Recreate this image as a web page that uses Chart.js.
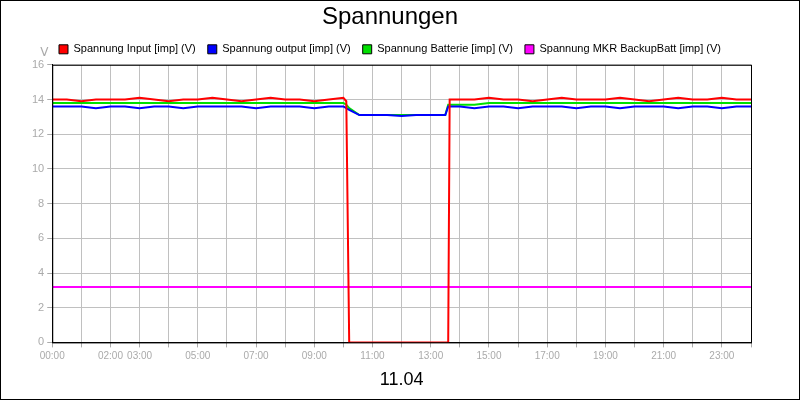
<!DOCTYPE html>
<html><head><meta charset="utf-8">
<script src="https://cdn.jsdelivr.net/npm/chart.js@4/dist/chart.umd.min.js"></script>
<style>
html,body{margin:0;padding:0;background:#fff}
#wrap{width:798px;height:398px;border:1px solid #000;position:relative}
</style></head>
<body><div id="wrap"><canvas id="myChart" width="798" height="398"></canvas></div>
<script>
const times = [0,0.5,1,1.5,2,2.5,3,3.5,4,4.5,5,5.5,6,6.5,7,7.5,8,8.5,9,9.5,10,
  10.1,10.2,10.55,11,11.5,12,12.5,13,13.5,13.6,13.65,
  14,14.5,15,15.5,16,16.5,17,17.5,18,18.5,19,19.5,20,20.5,21,21.5,22,22.5,23,23.5,24];
const inputV = [14.0,14.0,13.9,14.0,14.0,14.0,14.1,14.0,13.9,14.0,14.0,14.1,14.0,13.9,14.0,14.1,14.0,14.0,13.9,14.0,14.1,
  13.9,0,0,0,0,0,0,0,0,0,14.0,
  14.0,14.0,14.1,14.0,14.0,13.9,14.0,14.1,14.0,14.0,14.0,14.1,14.0,13.9,14.0,14.1,14.0,14.0,14.1,14.0,14.0];
const outputV = [13.6,13.6,13.6,13.5,13.6,13.6,13.5,13.6,13.6,13.5,13.6,13.6,13.6,13.6,13.5,13.6,13.6,13.6,13.5,13.6,13.6,
  13.5,13.4,13.1,13.1,13.1,13.05,13.1,13.1,13.1,13.6,13.6,
  13.6,13.5,13.6,13.6,13.5,13.6,13.6,13.6,13.5,13.6,13.6,13.5,13.6,13.6,13.6,13.5,13.6,13.6,13.5,13.6,13.6];
const batterieV = [13.8,13.8,13.8,13.8,13.8,13.8,13.8,13.8,13.8,13.8,13.8,13.8,13.8,13.8,13.8,13.8,13.8,13.8,13.8,13.8,13.8,
  13.7,13.5,13.1,13.1,13.1,13.1,13.1,13.1,13.1,13.7,13.7,
  13.7,13.7,13.8,13.8,13.8,13.8,13.8,13.8,13.8,13.8,13.8,13.8,13.8,13.8,13.8,13.8,13.8,13.8,13.8,13.8,13.8];
const backupV = times.map(() => 3.2);
const hourLabels = {0:'00:00',2:'02:00',3:'03:00',5:'05:00',7:'07:00',9:'09:00',11:'11:00',13:'13:00',
  15:'15:00',17:'17:00',19:'19:00',21:'21:00',23:'23:00'};

const pts = arr => arr.map((v, i) => ({x: times[i], y: v}));
const mk = (label, arr, color) => ({label, data: pts(arr), borderColor: color, backgroundColor: color,
  borderWidth: 2, pointRadius: 0, tension: 0, fill: false});

const frame = {
  id: 'frame',
  afterDraw(chart) {
    const {ctx, chartArea: a} = chart;
    ctx.save();
    ctx.strokeStyle = '#000'; ctx.lineWidth = 1;
    ctx.strokeRect(a.left + 0.5, a.top + 0.5, a.right - a.left, a.bottom - a.top);
    ctx.fillStyle = '#aaa'; ctx.font = '12px "DejaVu Sans"'; ctx.textAlign = 'center';
    ctx.fillText('V', a.left - 8, a.top - 12);
    ctx.restore();
  }
};

const ctx = document.getElementById('myChart').getContext('2d');
new Chart(ctx, {
  type: 'line',
  data: {datasets: [
    mk('Spannung Input [imp] (V)', inputV, '#ff0000'),
    mk('Spannung output [imp] (V)', outputV, '#0000ff'),
    mk('Spannung Batterie [imp] (V)', batterieV, '#00e000'),
    mk('Spannung MKR BackupBatt [imp] (V)', backupV, '#ff00ff')
  ]},
  options: {
    responsive: false, animation: false,
    layout: {padding: {left: 28, right: 48, top: 0, bottom: 2}},
    plugins: {
      title: {display: true, text: 'Spannungen', color: '#000', font: {size: 24, family: 'Liberation Sans', weight: 'normal'}, padding: {top: 2, bottom: 0}},
      legend: {
        labels: {boxWidth: 9, boxHeight: 9, color: '#000', font: {size: 11, family: 'Liberation Sans'}, padding: 12,
          generateLabels(chart) {
            return Chart.defaults.plugins.legend.labels.generateLabels(chart).map(l => Object.assign(l, {strokeStyle: '#000', lineWidth: 1}));
          }}
      },
      tooltip: {enabled: false}
    },
    scales: {
      x: {type: 'linear', min: 0, max: 24,
        grid: {color: '#c0c0c0', tickColor: '#aaa', tickLength: 5},
        border: {color: '#000'},
        ticks: {stepSize: 1, autoSkip: false, maxRotation: 0, color: '#aaa', font: {size: 10, family: 'Liberation Sans'},
          callback: v => hourLabels[v] || ''},
        title: {display: true, text: '11.04', color: '#000', font: {size: 18, family: 'Liberation Sans'}, padding: {top: 4, bottom: 6}}
      },
      y: {min: 0, max: 16,
        grid: {color: '#c0c0c0', tickColor: '#aaa', tickLength: 5},
        border: {color: '#000'},
        ticks: {stepSize: 2, color: '#aaa', font: {size: 11, family: 'Liberation Sans'}}
      }
    }
  },
  plugins: [frame]
});
</script></body></html>
